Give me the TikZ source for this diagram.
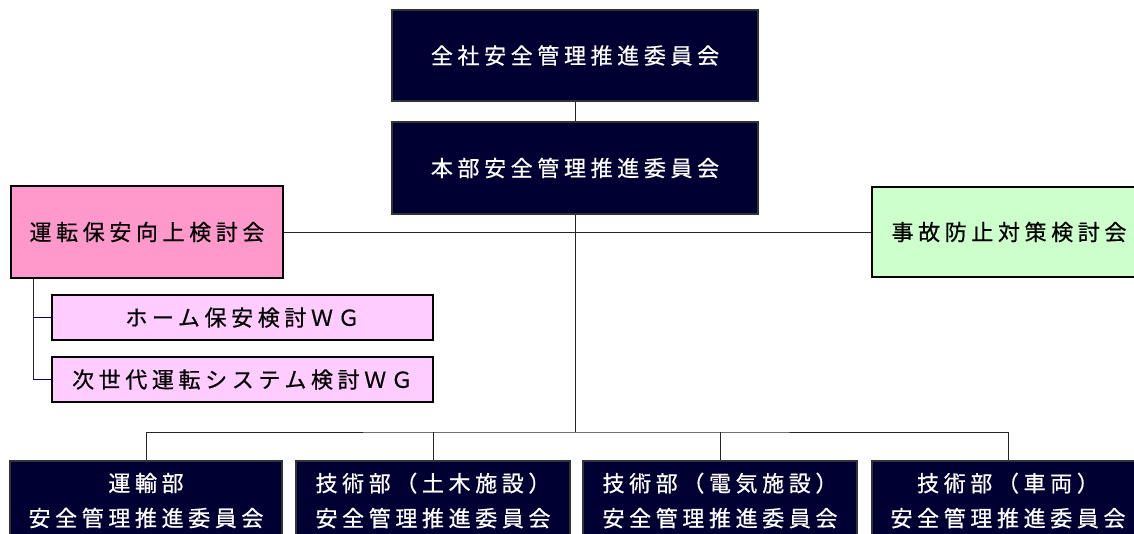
\documentclass[tikz,border=0pt]{standalone}
\usepackage{fontspec}
\newfontfamily\jp[LetterSpace=21, FakeBold=0.6]{Noto Sans CJK JP}
\definecolor{boxnavy}{HTML}{000033}
\definecolor{pinkbox}{HTML}{FF99CC}
\definecolor{lilac}{HTML}{FFCCFF}
\definecolor{mint}{HTML}{CCFFCC}
\definecolor{linkblue}{HTML}{000080}
\tikzset{
  darkbox/.style={draw=black!80, line width=1.2pt, fill=boxnavy, text=white, inner sep=0pt, font=\jp\fontsize{22}{35}\selectfont, align=center},
  sidebox/.style={draw=black, line width=1.5pt, inner sep=0pt, font=\jp\fontsize{22}{24}\selectfont, text=black},
  conn/.style={draw=black!85, line width=1pt},
  wgconn/.style={draw=linkblue, line width=1pt}
}
\begin{document}
\begin{tikzpicture}[x=1pt,y=-1pt]
\useasboundingbox (0,0) rectangle (1134,533);
\node[darkbox, minimum width=366, minimum height=91] (top) at (575,55.5) {全社安全管理推進委員会};
\node[darkbox, minimum width=366, minimum height=92] (mid) at (575,168) {本部安全管理推進委員会};
\node[sidebox, fill=pinkbox, minimum width=272, minimum height=92] (pink) at (147,232) {運転保安向上検討会};
\node[sidebox, fill=mint, minimum width=274, minimum height=90] (green) at (1009,232) {事故防止対策検討会};
\node[sidebox, line width=1.2pt, fill=lilac, minimum width=381, minimum height=45] (wg1) at (242.5,317.5) {ホーム保安検討ＷＧ};
\node[sidebox, line width=1.2pt, fill=lilac, minimum width=381, minimum height=45] (wg2) at (242.5,379.5) {次世代運転システム検討ＷＧ};
\node[darkbox, minimum width=272, minimum height=79] (b1) at (146,500.5) {運輸部\\安全管理推進委員会};
\node[darkbox, minimum width=274, minimum height=79] (b2) at (433,500.5) {技術部（土木施設）\\安全管理推進委員会};
\node[darkbox, minimum width=274, minimum height=79] (b3) at (720,500.5) {技術部（電気施設）\\安全管理推進委員会};
\node[darkbox, minimum width=272, minimum height=79] (b4) at (1008,500.5) {技術部（車両）\\安全管理推進委員会};
\coordinate (bus) at (575,432);
\coordinate (trunk) at (33,379.5);
\draw[conn] (top.south) -- (mid.north);
\draw[conn] (pink.east) -- (green.west);
\draw[conn] (mid.south) -- (bus);
\draw[conn] (b1.north) |- (bus) -| (b4.north);
\draw[conn] (b2.north) -- (b2.north |- bus);
\draw[conn] (b3.north) -- (b3.north |- bus);
\draw[conn] (pink.south -| trunk) -- (trunk);
\draw[wgconn] (trunk |- wg1.west) -- (wg1.west);
\draw[wgconn] (trunk) -- (wg2.west);
\end{tikzpicture}
\end{document}
